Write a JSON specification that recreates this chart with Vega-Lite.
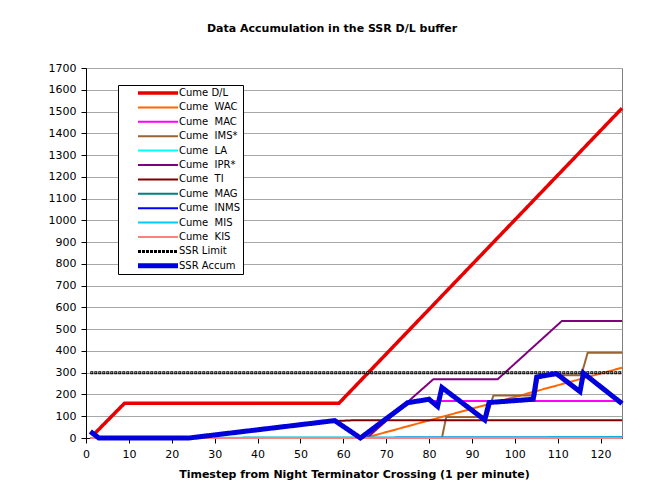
{
  "$schema": "https://vega.github.io/schema/vega-lite/v6.json",
  "width": 536,
  "height": 370,
  "autosize": {"type": "none"},
  "padding": {"left": 86, "top": 68, "right": 29, "bottom": 53},
  "background": "white",
  "config": {
    "font": "DejaVu Sans",
    "view": {"stroke": "#808080", "strokeWidth": 1}
  },
  "title": {
    "text": "Data Accumulation in the SSR D/L buffer",
    "fontSize": 11,
    "fontWeight": "bold",
    "color": "black",
    "anchor": "middle",
    "frame": "group",
    "dx": -22,
    "offset": 28
  },
  "data": {
    "values": [
      {"s": "Cume D/L", "x": 2, "y": 20},
      {"s": "Cume D/L", "x": 9, "y": 160},
      {"s": "Cume D/L", "x": 59, "y": 160},
      {"s": "Cume D/L", "x": 125, "y": 1515},
      {"s": "Cume WAC", "x": 1, "y": 0},
      {"s": "Cume WAC", "x": 65, "y": 0},
      {"s": "Cume WAC", "x": 125, "y": 323},
      {"s": "Cume MAC", "x": 1, "y": 0},
      {"s": "Cume MAC", "x": 64, "y": 0},
      {"s": "Cume MAC", "x": 76, "y": 170},
      {"s": "Cume MAC", "x": 125, "y": 170},
      {"s": "Cume IMS*", "x": 1, "y": 0},
      {"s": "Cume IMS*", "x": 83, "y": 0},
      {"s": "Cume IMS*", "x": 84, "y": 96},
      {"s": "Cume IMS*", "x": 93.5, "y": 96},
      {"s": "Cume IMS*", "x": 95, "y": 195},
      {"s": "Cume IMS*", "x": 104.8, "y": 195},
      {"s": "Cume IMS*", "x": 105.6, "y": 288},
      {"s": "Cume IMS*", "x": 115.5, "y": 288},
      {"s": "Cume IMS*", "x": 117, "y": 392},
      {"s": "Cume IMS*", "x": 125, "y": 392},
      {"s": "Cume LA", "x": 1, "y": 0},
      {"s": "Cume LA", "x": 125, "y": 3},
      {"s": "Cume IPR*", "x": 1, "y": 0},
      {"s": "Cume IPR*", "x": 65.5, "y": 0},
      {"s": "Cume IPR*", "x": 81, "y": 270},
      {"s": "Cume IPR*", "x": 96, "y": 270},
      {"s": "Cume IPR*", "x": 111, "y": 538},
      {"s": "Cume IPR*", "x": 125, "y": 538},
      {"s": "Cume TI", "x": 1, "y": 0},
      {"s": "Cume TI", "x": 24, "y": 0},
      {"s": "Cume TI", "x": 58, "y": 78},
      {"s": "Cume TI", "x": 63, "y": 82},
      {"s": "Cume TI", "x": 125, "y": 82},
      {"s": "Cume MAG", "x": 1, "y": 0},
      {"s": "Cume MAG", "x": 125, "y": 2},
      {"s": "Cume INMS", "x": 1, "y": 0},
      {"s": "Cume INMS", "x": 125, "y": 1},
      {"s": "Cume MIS", "x": 1, "y": 0},
      {"s": "Cume MIS", "x": 125, "y": 2},
      {"s": "Cume KIS", "x": 1, "y": 0},
      {"s": "Cume KIS", "x": 125, "y": 0},
      {"s": "SSR Limit", "x": 1, "y": 300},
      {"s": "SSR Limit", "x": 125, "y": 300},
      {"s": "SSR Accum", "x": 1, "y": 30},
      {"s": "SSR Accum", "x": 3, "y": 0},
      {"s": "SSR Accum", "x": 24, "y": 0},
      {"s": "SSR Accum", "x": 58, "y": 80},
      {"s": "SSR Accum", "x": 64, "y": 0},
      {"s": "SSR Accum", "x": 75, "y": 162},
      {"s": "SSR Accum", "x": 80, "y": 178},
      {"s": "SSR Accum", "x": 82, "y": 145},
      {"s": "SSR Accum", "x": 83, "y": 232},
      {"s": "SSR Accum", "x": 93, "y": 83},
      {"s": "SSR Accum", "x": 94, "y": 163},
      {"s": "SSR Accum", "x": 104.3, "y": 178},
      {"s": "SSR Accum", "x": 105.1, "y": 280},
      {"s": "SSR Accum", "x": 109.7, "y": 296},
      {"s": "SSR Accum", "x": 115.2, "y": 213},
      {"s": "SSR Accum", "x": 116, "y": 298},
      {"s": "SSR Accum", "x": 125, "y": 158}
    ]
  },
  "encoding": {
    "x": {
      "field": "x",
      "type": "quantitative",
      "scale": {"domain": [0, 125], "nice": false, "zero": false},
      "axis": {
        "values": [0, 10, 20, 30, 40, 50, 60, 70, 80, 90, 100, 110, 120],
        "title": "Timestep from Night Terminator Crossing (1 per minute)",
        "titleFontSize": 11,
        "titleFontWeight": "bold",
        "titleColor": "black",
        "titlePadding": 9,
        "labelFontSize": 11,
        "labelColor": "black",
        "labelPadding": 5,
        "tickSize": 5,
        "tickColor": "black",
        "domainColor": "black",
        "grid": false,
        "labelFlush": false
      }
    },
    "y": {
      "field": "y",
      "type": "quantitative",
      "scale": {"domain": [0, 1700], "nice": false},
      "axis": {
        "values": [0, 100, 200, 300, 400, 500, 600, 700, 800, 900, 1000, 1100, 1200, 1300, 1400, 1500, 1600, 1700],
        "format": "d",
        "title": null,
        "labelFontSize": 11,
        "labelColor": "black",
        "labelPadding": 5,
        "tickSize": 5,
        "tickColor": "black",
        "domainColor": "black",
        "grid": true,
        "gridColor": "#a8a8a8",
        "gridWidth": 1,
        "labelFlush": false
      }
    },
    "color": {
      "field": "s",
      "type": "nominal",
      "sort": null,
      "scale": {
        "domain": ["Cume D/L", "Cume WAC", "Cume MAC", "Cume IMS*", "Cume LA", "Cume IPR*", "Cume TI", "Cume MAG", "Cume INMS", "Cume MIS", "Cume KIS", "SSR Limit", "SSR Accum"],
        "range": ["#e80000", "#ff6600", "#ff00ff", "#996633", "#00ffff", "#800080", "#800000", "#008080", "#0000ff", "#00ccff", "#ff8080", "#000000", "#0000dd"]
      },
      "legend": {
        "title": null,
        "orient": "none",
        "legendX": 32,
        "legendY": 17,
        "symbolType": "M-10,0H10",
        "symbolSize": 16,
        "labelFontSize": 10,
        "labelColor": "black",
        "labelOffset": 16,
        "symbolOffset": 32,
        "strokeColor": "black",
        "fillColor": "white",
        "padding": 3,
        "rowPadding": 4.4,
        "encode": {"symbols": {"update": {"strokeJoin": {"value": "round"}}}},
        "labelExpr": "(datum.label == 'Cume D/L' || indexof(datum.label, 'SSR') == 0 ? datum.label : replace(datum.label, 'Cume ', 'Cume\u00a0 ')) + '\u00a0\u00a0\u00a0\u00a0'"
      }
    },
    "strokeWidth": {
      "field": "s",
      "type": "nominal",
      "sort": null,
      "scale": {
        "type": "ordinal",
        "domain": ["Cume D/L", "Cume WAC", "Cume MAC", "Cume IMS*", "Cume LA", "Cume IPR*", "Cume TI", "Cume MAG", "Cume INMS", "Cume MIS", "Cume KIS", "SSR Limit", "SSR Accum"],
        "range": [3.5, 2, 2, 2, 2, 2, 2, 2, 2, 2, 2, 3, 5]
      }
    },
    "strokeDash": {
      "field": "s",
      "type": "nominal",
      "sort": null,
      "scale": {
        "domain": ["Cume D/L", "Cume WAC", "Cume MAC", "Cume IMS*", "Cume LA", "Cume IPR*", "Cume TI", "Cume MAG", "Cume INMS", "Cume MIS", "Cume KIS", "SSR Limit", "SSR Accum"],
        "range": [[1, 0], [1, 0], [1, 0], [1, 0], [1, 0], [1, 0], [1, 0], [1, 0], [1, 0], [1, 0], [1, 0], [3, 1], [1, 0]]
      }
    }
  },
  "layer": [
    {
      "transform": [{"filter": "datum.s != 'SSR Accum'"}],
      "mark": {"type": "line", "clip": false}
    },
    {
      "transform": [{"filter": "datum.s == 'SSR Limit'"}],
      "mark": {"type": "line", "clip": false, "color": "white", "strokeWidth": 1, "strokeDash": [1, 3], "strokeDashOffset": -1},
      "encoding": {"color": {"value": "white"}, "strokeWidth": {"value": 1}, "strokeDash": {"value": [1, 3]}}
    },
    {
      "transform": [{"filter": "datum.s == 'SSR Accum'"}],
      "mark": {"type": "line", "clip": false}
    }
  ]
}
